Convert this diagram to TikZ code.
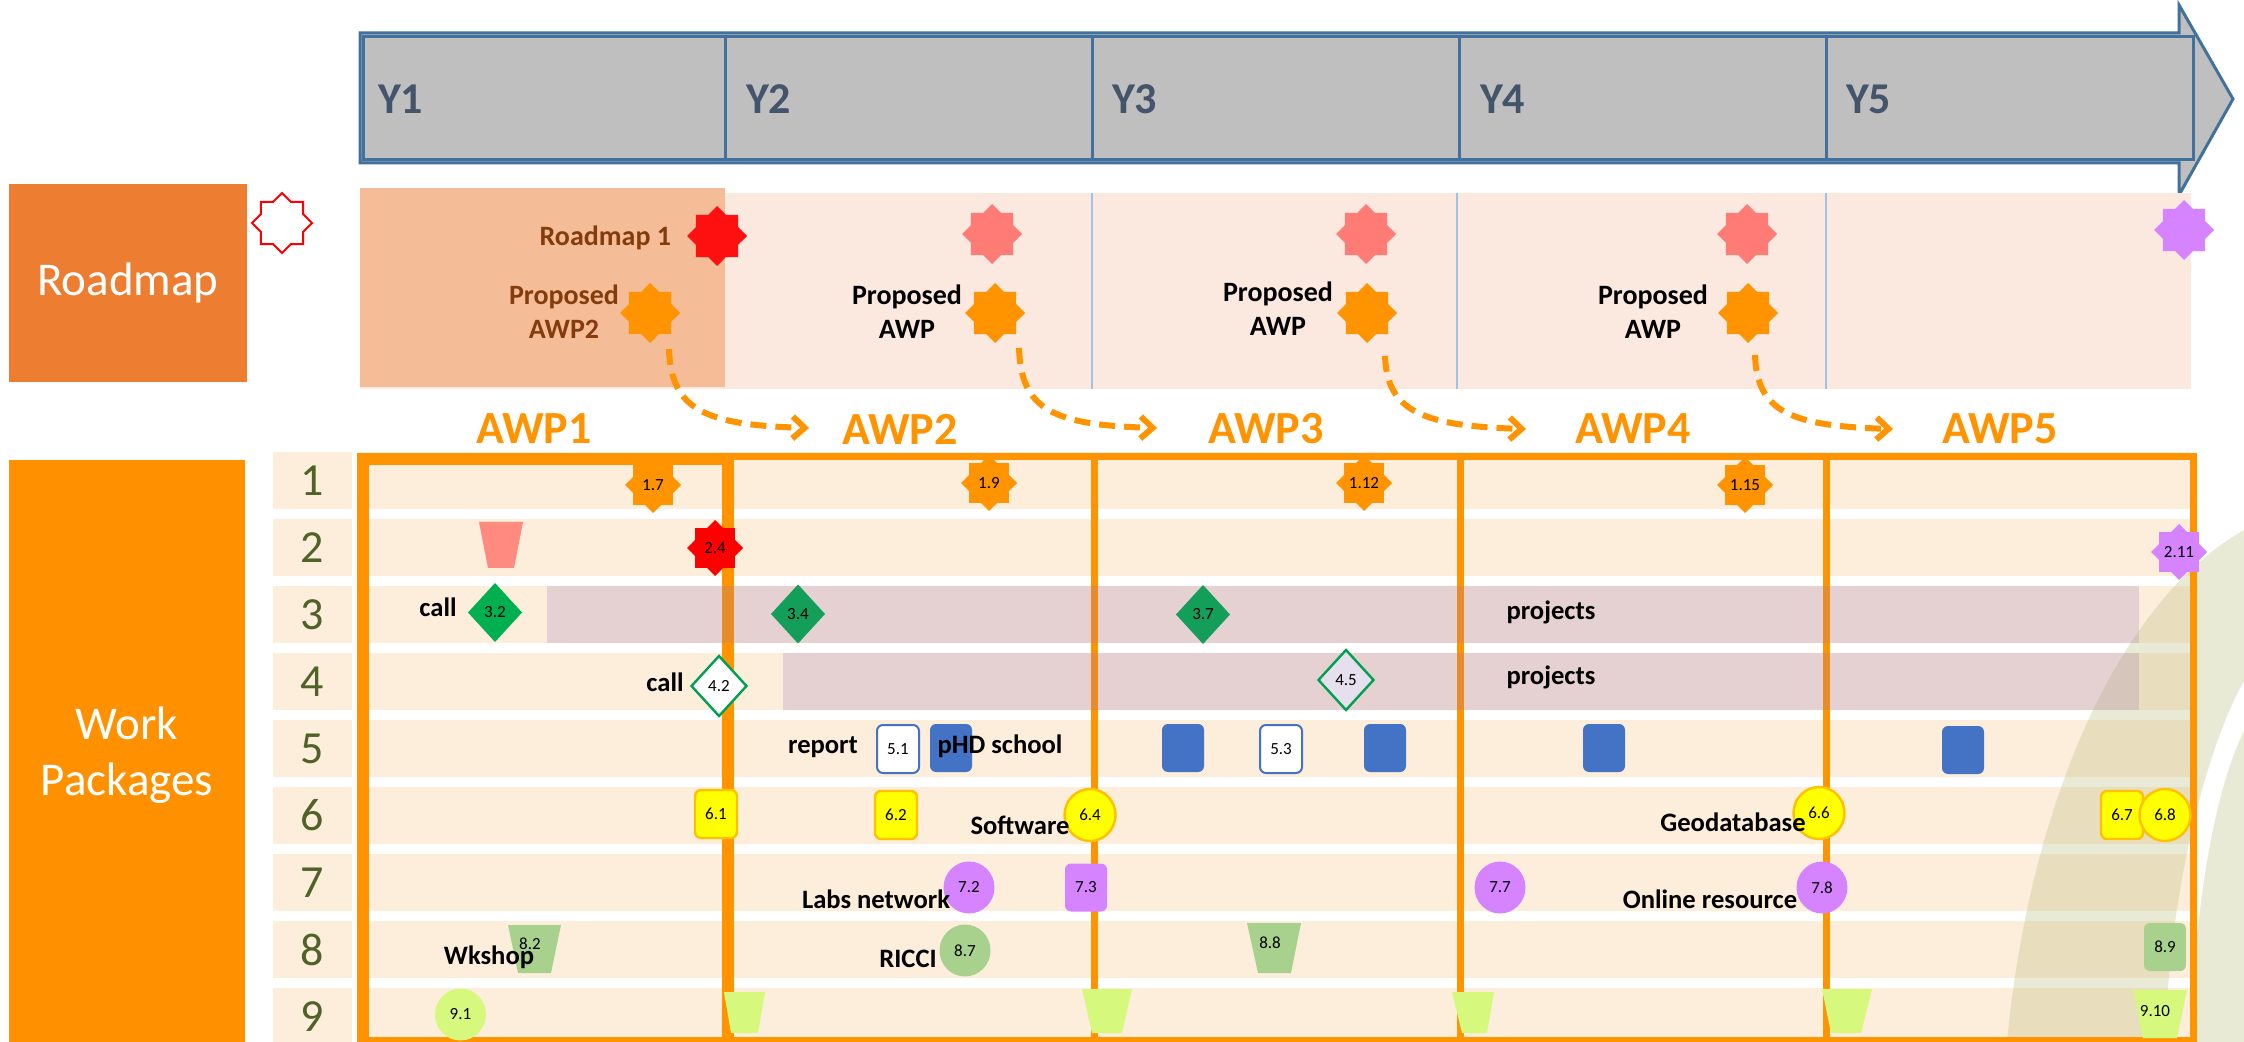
\documentclass[tikz,border=0pt]{standalone}
\usepackage{fontspec}
\setmainfont{Carlito}
\usetikzlibrary{shapes.geometric,arrows.meta}
\definecolor{tlgray}{HTML}{BFBFBF}
\definecolor{tlblue}{HTML}{41719C}
\definecolor{ytext}{HTML}{44546A}
\definecolor{rmbox}{HTML}{ED7D31}
\definecolor{wpbox}{HTML}{FF9100}
\definecolor{awp}{HTML}{FF9300}
\definecolor{rmband}{HTML}{FBE9DF}
\definecolor{rmyone}{HTML}{F5BD97}
\definecolor{vline}{HTML}{9DC3E6}
\definecolor{peach}{HTML}{FDEEDB}
\definecolor{rownum}{HTML}{4F6228}
\definecolor{brn}{HTML}{843C0C}
\definecolor{starred}{HTML}{FF1010}
\definecolor{starpink}{HTML}{FF7C76}
\definecolor{starorange}{HTML}{FF9400}
\definecolor{purp}{HTML}{D683FF}
\definecolor{barc}{HTML}{9B77B2}
\definecolor{dgreen}{HTML}{00B050}
\definecolor{dgreenb}{HTML}{139E5A}
\definecolor{dborder}{HTML}{00A050}
\definecolor{lav}{HTML}{E6E0EE}
\definecolor{wblue}{HTML}{4472C4}
\definecolor{yel}{HTML}{FFFF00}
\definecolor{yelb}{HTML}{FFC000}
\definecolor{sage}{HTML}{A9D18E}
\definecolor{lime}{HTML}{D6F87C}
\definecolor{pinkt}{HTML}{FF8A80}
\definecolor{swoosh}{HTML}{B8BC78}
\begin{document}
\begin{tikzpicture}[x=0.5pt,y=-0.5pt,
  every node/.style={inner sep=0pt,outer sep=0pt},
  st/.style={star,star points=8,star point ratio=1.307,minimum size=#1,inner sep=0pt,font=\fontsize{8.5}{10}\selectfont},
  st/.default=28pt,
  lab/.style={font=\fontsize{8.5}{10}\selectfont},
  dia/.style={diamond,minimum width=27pt,minimum height=29.5pt,lab},
  rbox/.style={rectangle,rounded corners=3pt,minimum width=21pt,minimum height=24pt,lab},
  ybox/.style={rbox,fill=yel,draw=yelb,line width=1.2pt},
  bbox/.style={rbox,fill=wblue},
  wbox/.style={rbox,fill=white,draw=wblue,line width=1pt},
  circ/.style={ellipse,minimum width=25.5pt,minimum height=26pt,lab},
  ycirc/.style={circ,fill=yel,draw=yelb,line width=1.2pt},
  txt/.style={font=\fontsize{13.3}{16}\selectfont\bfseries},
  prop/.style={font=\fontsize{14}{17}\selectfont\bfseries,align=center},
  awpl/.style={font=\fontsize{23}{27}\selectfont\bfseries,text=awp},
  yl/.style={font=\fontsize{22}{26}\selectfont\bfseries,text=ytext,anchor=west},
  awpframe/.style={draw=awp,line width=3.5pt},
  darr/.style={draw=awp,line width=3pt,dash pattern=on 8pt off 4.5pt,-{Straight Barb[length=6pt,width=11pt]}}
]
\useasboundingbox (0,0) rectangle (2244,1042);
\fill[white] (0,0) rectangle (2244,1042);

% ---------- timeline arrow ----------
\filldraw[fill=tlgray,draw=tlblue,line width=1.5pt] (360,33) -- (2179,33) -- (2179,5) -- (2233,99) -- (2179,195) -- (2179,163) -- (360,163) -- cycle;
\filldraw[fill=tlgray,draw=tlblue,line width=1.5pt] (363,37) rectangle (2193,160);
\foreach \xx in {725,1092,1459,1826} \draw[tlblue,line width=1.5pt] (\xx,37) -- (\xx,160);
\node[yl] (y1) at (378,99) {Y1};
\node[yl] (y2) at (746,99) {Y2};
\node[yl] (y3) at (1112,99) {Y3};
\node[yl] (y4) at (1480,99) {Y4};
\node[yl] (y5) at (1846,99) {Y5};

% ---------- roadmap band ----------
\node[fill=rmbox,minimum width=119pt,minimum height=99pt,text=white,font=\fontsize{23.5}{28}\selectfont] (rmb) at (128,283) {Roadmap};
\fill[rmband] (360,193) rectangle (2191,389);
\fill[rmyone] (360,188) rectangle (725,387);
\foreach \xx in {1092,1457,1826} \draw[vline,line width=0.6pt] (\xx,193) -- (\xx,389);
\node[st=30pt,fill=white,draw=red,line width=1pt] (rmleg) at (282,223) {};
\node[st=30pt,fill=starred] (rm1) at (717,236) {};
\node[st=30pt,fill=starorange] (pa1) at (650,313) {};
\node[st=30pt,fill=starpink] (pk2) at (992,234) {};
\node[st=30pt,fill=starorange] (pa2) at (995,313) {};
\node[st=30pt,fill=starpink] (pk3) at (1366,234) {};
\node[st=30pt,fill=starorange] (pa3) at (1367,313) {};
\node[st=30pt,fill=starpink] (pk4) at (1747,234) {};
\node[st=30pt,fill=starorange] (pa4) at (1748,313) {};
\node[st=30pt,fill=purp] (pp5) at (2184,230) {};
\node[prop,text=brn,anchor=east] (rml) at (671,238) {Roadmap 1};
\node[prop,text=brn] (pl1) at (564,312) {Proposed\\AWP2};
\node[prop] (pl2) at (907,312) {Proposed\\AWP};
\node[prop] (pl3) at (1278,309) {Proposed\\AWP};
\node[prop] (pl4) at (1653,312) {Proposed\\AWP};

% ---------- AWP labels ----------
\node[awpl] (awp1) at (534,429) {AWP1};
\node[awpl] (awp2) at (900,429) {AWP2};
\node[awpl] (awp3) at (1266,429) {AWP3};
\node[awpl] (awp4) at (1633,429) {AWP4};
\node[awpl] (awp5) at (2000,429) {AWP5};

% dashed arrows
\coordinate (s1) at (669,349); \coordinate (e1) at (809,428);
\coordinate (s2) at (1019,348); \coordinate (e2) at (1157,428);
\coordinate (s3) at (1385,356); \coordinate (e3) at (1526,429);
\coordinate (s4) at (1755,355); \coordinate (e4) at (1893,429);
\draw[darr] (s1) .. controls +(2,61) and +(-104,-3) .. (e1);
\draw[darr] (s2) .. controls +(2,62) and +(-104,-3) .. (e2);
\draw[darr] (s3) .. controls +(2,55) and +(-104,-3) .. (e3);
\draw[darr] (s4) .. controls +(2,56) and +(-104,-3) .. (e4);

% ---------- work packages ----------
\fill[wpbox] (9,460) rectangle (245,1050);
\node[text=white,align=center,font=\fontsize{23.5}{28}\selectfont] (wpb) at (127,755) {Work\\Packages};
\foreach \k in {1,...,9}{
  \pgfmathsetmacro\t{452+67*(\k-1)}
  \fill[peach] (273,\t) rectangle (352,\t+57);
  \fill[peach] (360,\t) rectangle (2190,\t+57);
  \node[font=\fontsize{23}{27}\selectfont,text=rownum] (n\k) at (312,\t+28.5) {\k};
}
% swoosh
\fill[swoosh,opacity=0.3] (2007,1042) .. controls (2030,800) and (2120,600) .. (2244,530) -- (2244,681) .. controls (2210,740) and (2170,880) .. (2165,1042) -- cycle;
\fill[swoosh,opacity=0.3] (2190,1042) .. controls (2195,900) and (2215,790) .. (2244,731) -- (2244,1042) -- cycle;

% frames
\draw[awpframe] (729,457) rectangle (1094,1040.5);
\draw[awpframe] (1094,457) rectangle (1460,1040.5);
\draw[awpframe] (1460,457) rectangle (1826,1040.5);
\draw[awpframe] (1826,457) rectangle (2193,1040.5);
\draw[draw=awp,line width=6pt] (363,459) rectangle (728,1043);

% row 1
\node[st,fill=starorange] (m17) at (653,485) {1.7};
\node[st,fill=starorange] (m19) at (989,483) {1.9};
\node[st,fill=starorange] (m112) at (1364,483) {1.12};
\node[st,fill=starorange] (m115) at (1745,485) {1.15};
% row 2
\fill[pinkt] (479,522) -- (523,522) -- (514,568) -- (488,568) -- cycle;
\node[st,fill=red] (m24) at (715,548) {2.4};
\node[st,fill=purp] (m211) at (2179,552) {2.11};
% row 3 / 4
\node[dia,fill=dgreen] (m32) at (495,612.5) {3.2};
\node[dia,fill=white,draw=dborder,line width=1.2pt,minimum width=27.5pt,minimum height=30pt] (m42) at (719,686) {4.2};
% bars
\fill[barc,opacity=0.24] (547,586) rectangle (2139,643);
\fill[barc,opacity=0.24] (783,653) rectangle (2139,710);
\node[dia,fill=dgreenb] (m34) at (798,614) {3.4};
\node[dia,fill=dgreenb] (m37) at (1203,614.5) {3.7};
\node[dia,fill=lav,draw=dborder,line width=1.2pt,minimum width=27.5pt,minimum height=30pt] (m45) at (1346,680) {4.5};
\node[txt] (call1) at (438,607) {call};
\node[txt] (call2) at (665,682) {call};
\node[txt] (proj1) at (1551,612) {projects};
\node[txt] (proj2) at (1551,677) {projects};
% row 5
\node[wbox] (m51) at (898,749) {5.1};
\node[bbox] (b1) at (951,748) {};
\node[bbox] (b2) at (1183,748) {};
\node[wbox] (m53) at (1281,749) {5.3};
\node[bbox] (b3) at (1385,748) {};
\node[bbox] (b4) at (1604,748) {};
\node[bbox] (b5) at (1963,750) {};
\node[txt] (rep) at (823,747) {report};
\node[txt] (phd) at (1000,746) {pHD school};
% row 6
\node[ybox] (m61) at (716,814) {6.1};
\node[ybox] (m62) at (896,815) {6.2};
\node[ycirc] (m64) at (1090,815) {6.4};
\node[ycirc] (m66) at (1819,813) {6.6};
\node[ybox] (m67) at (2122,815) {6.7};
\node[ycirc] (m68) at (2165,815) {6.8};
\node[txt] (soft) at (1020,825) {Software};
\node[txt] (geo) at (1733,822) {Geodatabase};
% row 7
\node[circ,fill=purp] (m72) at (969,887.5) {7.2};
\node[rbox,fill=purp] (m73) at (1086,887.5) {7.3};
\node[circ,fill=purp] (m77) at (1500,887.5) {7.7};
\node[circ,fill=purp] (m78) at (1822,887.5) {7.8};
\node[txt] (labs) at (876,899) {Labs network};
\node[txt] (onl) at (1710,899) {Online resource};
% row 8
\fill[sage] (508,925) -- (561,925) -- (551,973) -- (518,973) -- cycle;
\node[lab] (m82) at (530,944) {8.2};
\node[txt] (wk) at (489,957) {Wkshop};
\node[txt] (ricci) at (908,959) {RICCI};
\node[circ,fill=sage] (m87) at (965,950.5) {8.7};
\fill[sage] (1247,923) -- (1301,923) -- (1291,973) -- (1258,973) -- cycle;
\node[lab] (m88) at (1270,943) {8.8};
\node[rbox,fill=sage] (m89) at (2165,947) {8.9};
% row 9
\node[circ,fill=lime] (m91) at (460.5,1014.5) {9.1};
\fill[lime] (724,992) -- (765,992) -- (758,1033) -- (731,1033) -- cycle;
\fill[lime] (1082,989) -- (1132,989) -- (1122,1033) -- (1092,1033) -- cycle;
\fill[lime] (1452,992) -- (1494,992) -- (1487,1033) -- (1462,1033) -- cycle;
\fill[lime] (1822,989) -- (1872,989) -- (1861,1033) -- (1831,1033) -- cycle;
\fill[lime] (2133,990) -- (2187,990) -- (2177,1038) -- (2143,1038) -- cycle;
\node[lab] (m910) at (2155,1011) {9.10};
\end{tikzpicture}
\end{document}
